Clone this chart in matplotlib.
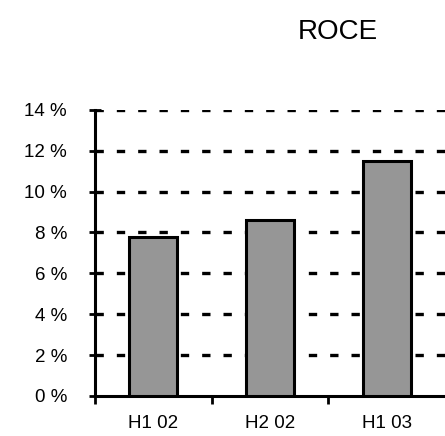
import matplotlib
matplotlib.use('Agg')
import matplotlib.pyplot as plt
import numpy as np

plt.rcParams['font.family'] = ['Liberation Sans', 'DejaVu Sans']

periods = ['H1 02', 'H2 02', 'H1 03']
roce = [7.8, 8.6, 11.5]
yticks = [0, 2, 4, 6, 8, 10, 12, 14]

fig = plt.figure(figsize=(4.45, 4.36), dpi=100)
ax = fig.add_axes([0.213, 0.092, 0.787, 0.656])

x = np.arange(len(periods))
ax.bar(x, roce, width=0.41, color='#969696', edgecolor='black', linewidth=2.2, zorder=3)

ax.set_xlim(-0.5, 2.5)
ax.set_ylim(0, 14)
ax.set_yticks(yticks)
ax.set_yticklabels(['%d %%' % v for v in yticks], fontsize=13.5)
ax.set_xticks(x)
ax.set_xticklabels(periods, fontsize=13.5)
ax.set_xticks([-0.5, 0.5, 1.5], minor=True)
ax.tick_params(axis='x', which='major', length=0, pad=14)
ax.tick_params(axis='x', which='minor', length=6, width=2, direction='out')
ax.tick_params(axis='y', length=8, width=2, direction='inout', pad=16)

# dashed grid, first dash starts at the axis
for v in yticks[1:]:
    ax.axhline(v, color='black', lw=2.4, dashes=(2.5, 3.9), zorder=1)

for s in ['top', 'right']:
    ax.spines[s].set_visible(False)
ax.spines['left'].set_linewidth(2.2)
ax.spines['bottom'].set_linewidth(2.2)

fig.text(0.76, 0.927, 'ROCE', fontsize=20, ha='center', va='center')

fig.savefig('out.png', dpi=100)
